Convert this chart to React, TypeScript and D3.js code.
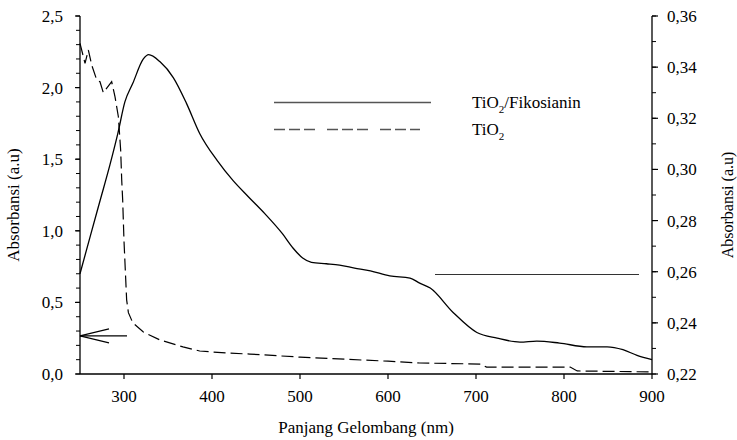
import React from 'react';
import * as d3 from 'd3';

// TiO2/Fikosianin spectrum (left axis)
const fikoNm = [250, 262, 273, 284, 293, 301, 310, 322, 328, 341, 356, 371, 386, 406, 424, 441, 460, 480, 492, 503, 513, 530, 545, 562, 580, 602, 625, 636, 648, 674, 701, 724, 750, 769, 795, 826, 849, 867, 883, 900];
const fikoAbs = [0.7, 0.97, 1.215, 1.46, 1.68, 1.9, 2.03, 2.2, 2.23, 2.18, 2.07, 1.89, 1.68, 1.49, 1.35, 1.24, 1.12, 0.98, 0.88, 0.81, 0.78, 0.77, 0.76, 0.74, 0.72, 0.685, 0.67, 0.635, 0.6, 0.43, 0.29, 0.25, 0.223, 0.23, 0.216, 0.19, 0.19, 0.17, 0.13, 0.1];

// TiO2 spectrum (right axis)
const tioNm = [250, 255.7, 259.5, 263.3, 269, 272.7, 276.5, 286, 289.8, 293.6, 296.2, 297.4, 298.5, 300, 303, 305, 310, 322, 341, 367, 386, 417, 443, 500, 600, 636, 705, 712, 807, 815, 898, 900];
const tioAbs = [0.3493, 0.3415, 0.3467, 0.3408, 0.335, 0.3343, 0.33, 0.3343, 0.3284, 0.3206, 0.3076, 0.2959, 0.288, 0.272, 0.249, 0.244, 0.24, 0.2364, 0.2333, 0.2306, 0.229, 0.2282, 0.2278, 0.2266, 0.225, 0.2243, 0.2239, 0.2227, 0.2227, 0.2212, 0.2208, 0.2207];

const xTicks = [300, 400, 500, 600, 700, 800, 900];
const leftTicks = [0, 0.5, 1.0, 1.5, 2.0, 2.5];
const rightTicks = [0.22, 0.24, 0.26, 0.28, 0.30, 0.32, 0.34, 0.36];

const legendItems = [
  { base: 'TiO', sub: '2', rest: '/Fikosianin', dashed: false },
  { base: 'TiO', sub: '2', rest: '', dashed: true },
];

const FONT = "'Times New Roman', 'Liberation Serif', Tinos, 'DejaVu Serif', serif";
const FS = 17;

export default function App() {
  const left = 80, right = 652, top = 16, bottom = 374;
  const x = d3.scaleLinear().domain([250, 900]).range([left, right]);
  const yL = d3.scaleLinear().domain([0, 2.5]).range([bottom, top]);
  const yR = d3.scaleLinear().domain([0.22, 0.36]).range([bottom, top]);

  const fikoLine = d3.line<number>()
    .x((_, i) => x(fikoNm[i]))
    .y((d) => yL(d))
    .curve(d3.curveMonotoneX);
  const tioLine = d3.line<number>()
    .x((_, i) => x(tioNm[i]))
    .y((d) => yR(d));

  const fmt = (v: number, n: number) => v.toFixed(n).replace('.', ',');
  const leftMinor = d3.range(0, 2.51, 0.1);
  const rightMinor = d3.range(0.22, 0.3601, 0.01);

  const arrowY = yR(0.2349);
  const lineY = yR(0.2589);

  return (
    <svg width={737} height={440} style={{ position: 'absolute', left: 0, top: 0, background: '#fff', fontSize: FS }} fontFamily={FONT}>
      {/* axes */}
      <line x1={left} x2={left} y1={top} y2={bottom} stroke="#000" strokeWidth={1.3} />
      <line x1={right} x2={right} y1={top} y2={bottom} stroke="#000" strokeWidth={1.3} />
      <line x1={left} x2={right} y1={bottom} y2={bottom} stroke="#000" strokeWidth={1.3} />

      {leftMinor.map((v, i) => (
        <line key={'lm' + i} x1={left - 4} x2={left} y1={yL(v)} y2={yL(v)} stroke="#000" strokeWidth={1} />
      ))}
      {leftTicks.map((v) => (
        <g key={'lt' + v}>
          <line x1={left - 5} x2={left} y1={yL(v)} y2={yL(v)} stroke="#000" strokeWidth={1.2} />
          <text x={63} y={yL(v)} dy="0.35em" textAnchor="end" fontFamily={FONT}>{fmt(v, 1)}</text>
        </g>
      ))}
      {rightMinor.map((v, i) => (
        <line key={'rm' + i} x1={right} x2={right + 4} y1={yR(v)} y2={yR(v)} stroke="#000" strokeWidth={1} />
      ))}
      {rightTicks.map((v) => (
        <g key={'rt' + v}>
          <line x1={right} x2={right + 6} y1={yR(v)} y2={yR(v)} stroke="#000" strokeWidth={1.2} />
          <text x={667} y={yR(v)} dy="0.35em" textAnchor="start" fontFamily={FONT}>{fmt(v, 2)}</text>
        </g>
      ))}
      {xTicks.map((v) => (
        <g key={'xt' + v}>
          <line x1={x(v)} x2={x(v)} y1={bottom} y2={bottom + 5} stroke="#000" strokeWidth={1.2} />
          <text x={x(v)} y={402} textAnchor="middle" fontFamily={FONT}>{v}</text>
        </g>
      ))}

      {/* axis titles */}
      <text x={(left + right) / 2} y={433} textAnchor="middle" fontFamily={FONT}>Panjang Gelombang (nm)</text>
      <text transform={`translate(19,${(top + bottom) / 2 + 10}) rotate(-90)`} textAnchor="middle" fontFamily={FONT}>Absorbansi (a.u)</text>
      <text transform={`translate(733,${(top + bottom) / 2 + 10}) rotate(-90)`} textAnchor="middle" fontFamily={FONT} fontSize={16}>Absorbansi (a.u)</text>

      {/* curves */}
      <path d={fikoLine(fikoAbs) || ''} fill="none" stroke="#000" strokeWidth={1.3} />
      <path d={tioLine(tioAbs) || ''} fill="none" stroke="#000" strokeWidth={1.2} strokeDasharray="12,5" />

      {/* arrows pointing to each axis */}
      <g stroke="#000" strokeWidth={1.1} fill="none">
        <line x1={left} x2={127} y1={arrowY} y2={arrowY} />
        <line x1={left} x2={109} y1={arrowY} y2={arrowY - 7} />
        <line x1={left} x2={109} y1={arrowY} y2={arrowY + 7} />
        <line x1={435} x2={639} y1={lineY} y2={lineY} stroke="#333" />
      </g>

      {/* legend */}
      {legendItems.map((d, i) => {
        const ly = 102.5 + i * 27;
        return (
          <g key={'lg' + i}>
            <line x1={274} x2={d.dashed ? 420 : 431} y1={ly} y2={ly} stroke="#555" strokeWidth={1.6}
              strokeDasharray={d.dashed ? '11,4,11,4,11,12' : undefined} />
            <text x={472} y={ly} dy="0.33em" fontFamily={FONT}>
              {d.base}
              <tspan fontSize={FS * 0.65} dy="0.4em">{d.sub}</tspan>
              <tspan dy="-0.26em">{d.rest}</tspan>
            </text>
          </g>
        );
      })}
    </svg>
  );
}
